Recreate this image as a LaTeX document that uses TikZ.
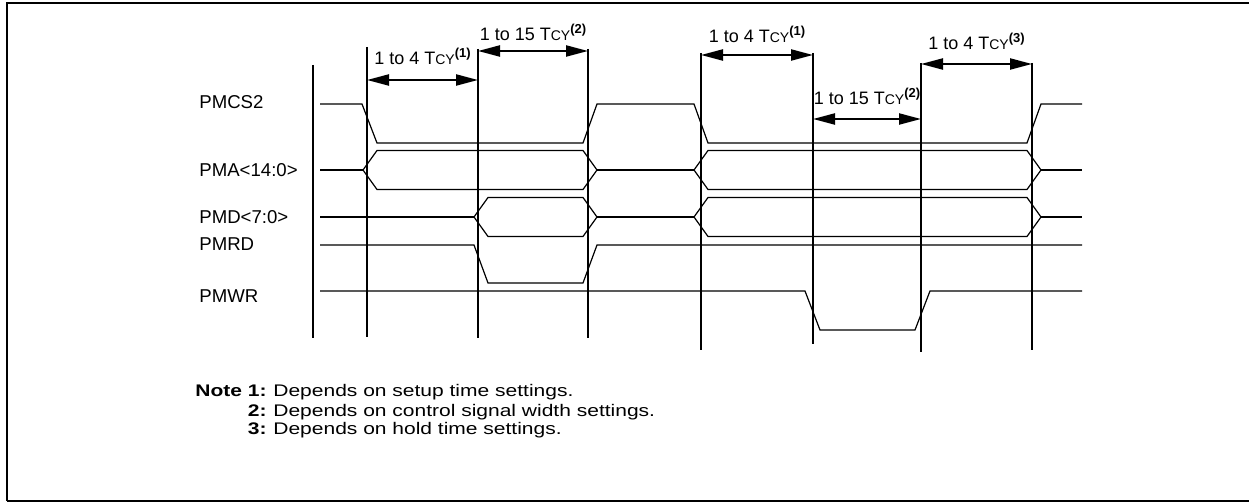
\documentclass[tikz,border=0pt]{standalone}
\usepackage{fontspec}
\setmainfont{Liberation Sans}
\newfontfamily\notefont{Liberation Sans}[FakeStretch=1.25]
\usetikzlibrary{arrows.meta}
\newcommand{\tcy}[1]{T{\fontsize{7}{8}\selectfont CY}\raisebox{3.6pt}{\fontsize{6.5}{8}\selectfont\bfseries(#1)}}

\begin{document}
\begin{tikzpicture}[x=0.5pt,y=-0.5pt,
sig/.style={line width=0.6pt},
vline/.style={line width=1.1pt},
span/.style={{Triangle[length=11pt,width=5.5pt]}-{Triangle[length=11pt,width=5.5pt]},line width=1.1pt},
lbl/.style={font=\fontsize{9}{11}\selectfont,inner sep=0pt,anchor=base},
siglbl/.style={font=\fontsize{9.3}{11}\selectfont,inner sep=0pt,anchor=base west},
note/.style={font=\notefont\fontsize{8.4}{10}\selectfont,inner sep=0pt},
]
\useasboundingbox (0,0) rectangle (1249,502);
% frame
\draw[line width=1.1pt] (1249,3) -- (7,3) -- (7,501);
\draw[line width=0.8pt] (7,501) -- (1249,501);

% timing marks
\foreach \i/\x/\t/\b in {0/313/65/338, 1/367/47/337, 2/478/49/338, 3/588/49/338,
  4/701/53/350, 5/813/53/344, 6/921/63/352, 7/1032/63/350}{
  \coordinate (v\i) at (\x,0);
  \draw[vline] (\x,\t) -- (\x,\b);
}

% signal names
\node (cs) [siglbl] at (199,109) {PMCS2};
\node (pma) [siglbl] at (199,177) {PMA<14:0>};
\node (pmd) [siglbl] at (199,224) {PMD<7:0>};
\node (rd) [siglbl] at (199,251) {PMRD};
\node (wr) [siglbl] at (199,303) {PMWR};

% PMCS2
\draw[sig] (320,104) -- (362,104) -- (377,143) -- (583,143) -- (597,104) -- (694,104)
  -- (708,143) -- (1027,143) -- (1041,104) -- (1082,104);
% PMA<14:0>
\draw[sig] (320,170) -- (363,170) (597,170) -- (694,170) (1041,170) -- (1082,170);
\draw[sig] (363,170) -- (377,150.5) -- (583,150.5) -- (597,170) -- (583,189.5) -- (377,189.5) -- cycle;
\draw[sig] (694,170) -- (708,150.5) -- (1027,150.5) -- (1041,170) -- (1027,189.5) -- (708,189.5) -- cycle;
% PMD<7:0>
\draw[sig] (320,217) -- (474,217) (597,217) -- (694,217) (1041,217) -- (1082,217);
\draw[sig] (474,217) -- (488,197.5) -- (583,197.5) -- (597,217) -- (583,236.5) -- (488,236.5) -- cycle;
\draw[sig] (694,217) -- (708,197.5) -- (1027,197.5) -- (1041,217) -- (1027,236.5) -- (708,236.5) -- cycle;
% PMRD
\draw[sig] (320,245) -- (474,245) -- (488,283) -- (583,283) -- (597,245) -- (1082,245);
% PMWR
\draw[sig] (320,291) -- (805,291) -- (820,330) -- (915,330) -- (930,291) -- (1082,291);

% spans
\draw[span] (v1 |- 0,80) -- node (s1) [lbl,yshift=7.5pt] {1 to 4 \tcy{1}} (v2 |- 0,80);
\draw[span] (v2 |- 0,51) -- node (s2) [lbl,yshift=5pt] {1 to 15 \tcy{2}} (v3 |- 0,51);
\draw[span] (v4 |- 0,55) -- node (s3) [lbl,yshift=6pt] {1 to 4 \tcy{1}} (v5 |- 0,55);
\draw[span] (v5 |- 0,119) -- node (s4) [lbl,yshift=7pt] {1 to 15 \tcy{2}} (v6 |- 0,119);
\draw[span] (v6 |- 0,64) -- node (s5) [lbl,yshift=7pt] {1 to 4 \tcy{3}} (v7 |- 0,64);

% notes
\node (n1) [note,anchor=base east] at (267,397) {\textbf{Note 1:}};
\node (n2) [note,anchor=base east] at (267,416) {\textbf{2:}};
\node (n3) [note,anchor=base east] at (267,435) {\textbf{3:}};
\node (d1) [note,anchor=base west] at (273,397) {Depends on setup time settings.};
\node (d2) [note,anchor=base west] at (273,416) {Depends on control signal width settings.};
\node (d3) [note,anchor=base west] at (273,435) {Depends on hold time settings.};
\end{tikzpicture}
\end{document}
